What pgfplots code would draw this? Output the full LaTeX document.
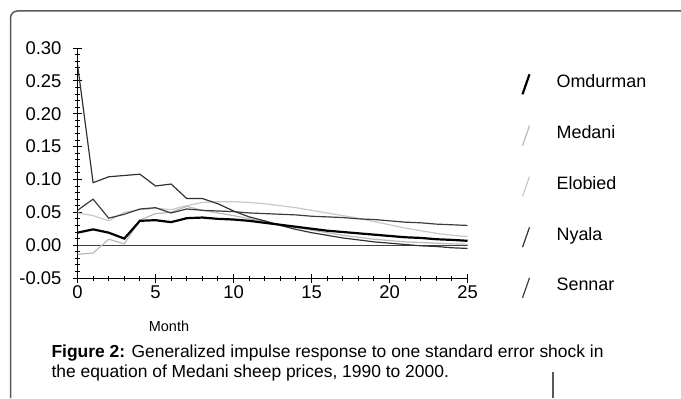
\documentclass[border=0pt]{standalone}
\usepackage{pgfplots}
\pgfplotsset{compat=1.18}
\usepackage{fontspec}
\setmainfont{Liberation Sans}
\pgfplotstableread{
t Omdurman Medani Elobied Nyala Sennar
0 0.019 -0.014 0.049 0.275 0.053
1 0.024 -0.012 0.045 0.095 0.070
2 0.019 0.009 0.037 0.104 0.041
3 0.010 0.002 0.050 0.106 0.047
4 0.037 0.038 0.054 0.108 0.055
5 0.038 0.048 0.056 0.090 0.057
6 0.035 0.050 0.054 0.093 0.049
7 0.041 0.059 0.060 0.071 0.055
8 0.042 0.053 0.065 0.071 0.053
9 0.040 0.049 0.066 0.063 0.052
10 0.039 0.045 0.066 0.052 0.051
11 0.037 0.040 0.065 0.043 0.049
12 0.034 0.036 0.063 0.037 0.048
13 0.031 0.031 0.060 0.030 0.047
14 0.028 0.027 0.057 0.024 0.046
15 0.025 0.023 0.053 0.019 0.044
16 0.022 0.019 0.049 0.015 0.043
17 0.020 0.015 0.045 0.011 0.042
18 0.018 0.012 0.041 0.008 0.040
19 0.016 0.009 0.036 0.005 0.039
20 0.014 0.007 0.031 0.003 0.037
21 0.012 0.005 0.026 0.001 0.035
22 0.011 0.004 0.022 -0.001 0.034
23 0.009 0.003 0.018 -0.002 0.032
24 0.008 0.002 0.015 -0.004 0.031
25 0.0066 0.0015 0.013 -0.005 0.030
}\datatable
\definecolor{cEl}{RGB}{200,200,200}
\definecolor{cMe}{RGB}{185,185,185}
\definecolor{cSe}{RGB}{60,60,60}
\definecolor{cNy}{RGB}{50,50,50}
\begin{document}
\begin{tikzpicture}[x=1bp,y=1bp]
\path[use as bounding box] (0,0) rectangle (681,398);
\draw[black!65, line width=1.5bp, rounded corners=7bp] (10.5,0) -- (10.5,387) -- (681,387);
\draw[black!65, line width=1.2bp] (553,0) -- (553,26);
\begin{axis}[
  at={(77.5bp,120bp)}, anchor=south west,
  scale only axis, width=390bp, height=230bp,
  xmin=0, xmax=25, ymin=-0.05, ymax=0.30,
  axis x line*=bottom, axis y line*=left,
  axis line style={black, line width=1bp},
  xtick={0,5,...,25}, ytick={-0.05,0,0.05,0.10,0.15,0.20,0.25,0.30},
  minor x tick num=4, minor y tick num=4,
  tick align=center, major tick length=9bp, minor tick length=5bp,
  every tick/.style={black, line width=0.9bp},
  /pgf/number format/assume math mode=true,
  ticklabel style={font=\fontsize{18.5}{22}\selectfont},
  xticklabel style={yshift=0bp},
  yticklabel style={xshift=-8bp, /pgf/number format/.cd, fixed, fixed zerofill, precision=2},
  scaled y ticks=false,
  legend style={at={(1.13,0.905)}, anchor=north west, draw=none, fill=none,
    font=\fontsize{18}{21}\selectfont, row sep=28bp,
    /tikz/every odd column/.append style={column sep=24bp}},
  legend cell align=left,
  legend image code/.code={\draw[#1] (0bp,-13bp) -- (7bp,7bp);},
]
\addlegendimage{black, line width=2.2bp}\addlegendentry{Omdurman}
\addlegendimage{cMe, line width=1.2bp}\addlegendentry{Medani}
\addlegendimage{cEl, line width=1.2bp}\addlegendentry{Elobied}
\addlegendimage{cNy, line width=1.2bp}\addlegendentry{Nyala}
\addlegendimage{cSe, line width=1.2bp}\addlegendentry{Sennar}
\addplot[black!75, line width=0.9bp, forget plot] coordinates {(0,0) (25,0)};
\addplot[cEl, line width=1.2bp, forget plot] table[x=t,y=Elobied] {\datatable};
\addplot[cMe, line width=1.2bp, forget plot] table[x=t,y=Medani] {\datatable};
\addplot[cSe, line width=1.2bp, forget plot] table[x=t,y=Sennar] {\datatable};
\addplot[cNy, line width=1.2bp, forget plot] table[x=t,y=Nyala] {\datatable};
\addplot[black, line width=2.2bp, forget plot] table[x=t,y=Omdurman] {\datatable};
\end{axis}
\node[font=\fontsize{14.5}{16}\selectfont] at (169,72) {Month};
\node[anchor=west, align=left, font=\fontsize{17.5}{21}\selectfont] at (48,35)
  {\textbf{Figure 2:} Generalized impulse response to one standard error shock in\\the equation of Medani sheep prices, 1990 to 2000.};
\end{tikzpicture}
\end{document}
